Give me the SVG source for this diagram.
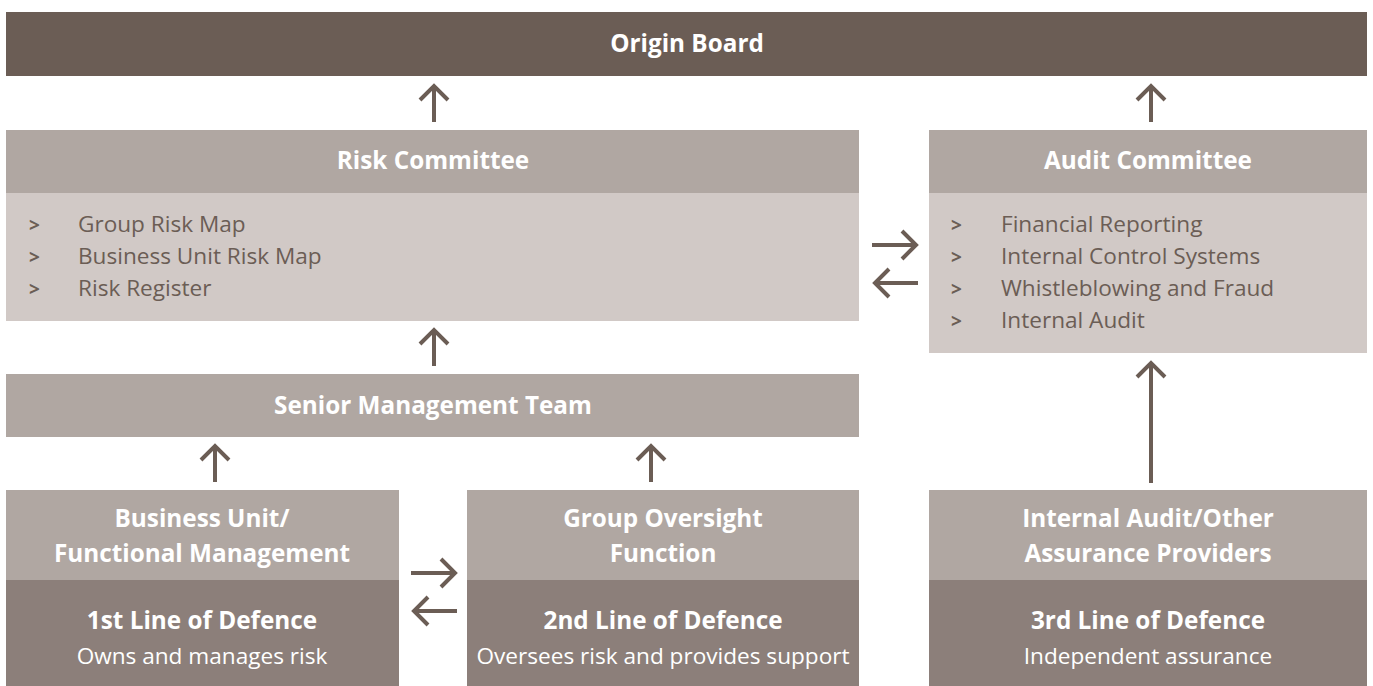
<svg xmlns="http://www.w3.org/2000/svg" width="1373" height="686" viewBox="0 0 1373 686">
  <defs>
    <style>
      .board { fill: #6b5d55; }
      .head { fill: #b0a7a2; }
      .body { fill: #d1c9c6; }
      .low { fill: #8c7f7a; }
      .t-head { font-family: "Open Sans", "Liberation Sans", sans-serif; font-weight: 700; font-size: 24.3px; fill: #ffffff; text-anchor: middle; }
      .t-sub { font-family: "Open Sans", "Liberation Sans", sans-serif; font-weight: 400; font-size: 22.6px; fill: #ffffff; text-anchor: middle; }
      .t-list { font-family: "Open Sans", "Liberation Sans", sans-serif; font-weight: 400; font-size: 22.6px; fill: #6b5d55; }
      .t-bul { font-family: "Open Sans", "Liberation Sans", sans-serif; font-weight: 700; font-size: 19px; fill: #6b5d55; }
      .arrow { fill: none; stroke: #6b5d55; stroke-width: 4; stroke-linecap: butt; stroke-linejoin: miter; }
    </style>
  </defs>
  <rect width="1373" height="686" fill="#ffffff"/>

  <!-- Board -->
  <g id="origin-board">
    <rect class="board" x="6" y="12" width="1361" height="64"/>
    <text class="t-head" x="687" y="52">Origin Board</text>
  </g>

  <!-- Risk Committee -->
  <g id="risk-committee">
    <rect class="head" x="6" y="130" width="853" height="63"/>
    <rect class="body" x="6" y="193" width="853" height="128"/>
    <text class="t-head" x="433" y="169">Risk Committee</text>
    <text class="t-bul" x="29" y="232">&gt;</text>
    <text class="t-bul" x="29" y="264">&gt;</text>
    <text class="t-bul" x="29" y="296">&gt;</text>
    <text class="t-list" x="78" y="232">Group Risk Map</text>
    <text class="t-list" x="78" y="264">Business Unit Risk Map</text>
    <text class="t-list" x="78" y="296">Risk Register</text>
  </g>

  <!-- Audit Committee -->
  <g id="audit-committee">
    <rect class="head" x="929" y="130" width="438" height="63"/>
    <rect class="body" x="929" y="193" width="438" height="160"/>
    <text class="t-head" x="1148" y="169">Audit Committee</text>
    <text class="t-bul" x="951" y="232">&gt;</text>
    <text class="t-bul" x="951" y="264">&gt;</text>
    <text class="t-bul" x="951" y="296">&gt;</text>
    <text class="t-bul" x="951" y="328">&gt;</text>
    <text class="t-list" x="1001" y="232">Financial Reporting</text>
    <text class="t-list" x="1001" y="264">Internal Control Systems</text>
    <text class="t-list" x="1001" y="296">Whistleblowing and Fraud</text>
    <text class="t-list" x="1001" y="328">Internal Audit</text>
  </g>

  <!-- Senior Management Team -->
  <g id="senior-management">
    <rect class="head" x="6" y="374" width="853" height="63"/>
    <text class="t-head" x="433" y="414">Senior Management Team</text>
  </g>

  <!-- 1st line -->
  <g id="first-line">
    <rect class="head" x="6" y="490" width="393" height="90"/>
    <rect class="low" x="6" y="580" width="393" height="106"/>
    <text class="t-head" x="202" y="527">Business Unit/</text>
    <text class="t-head" x="202" y="562">Functional Management</text>
    <text class="t-head" x="202" y="629">1st Line of Defence</text>
    <text class="t-sub" x="202" y="664">Owns and manages risk</text>
  </g>

  <!-- 2nd line -->
  <g id="second-line">
    <rect class="head" x="467" y="490" width="392" height="90"/>
    <rect class="low" x="467" y="580" width="392" height="106"/>
    <text class="t-head" x="663" y="527">Group Oversight</text>
    <text class="t-head" x="663" y="562">Function</text>
    <text class="t-head" x="663" y="629">2nd Line of Defence</text>
    <text class="t-sub" x="663" y="664">Oversees risk and provides support</text>
  </g>

  <!-- 3rd line -->
  <g id="third-line">
    <rect class="head" x="929" y="490" width="438" height="90"/>
    <rect class="low" x="929" y="580" width="438" height="106"/>
    <text class="t-head" x="1148" y="527">Internal Audit/Other</text>
    <text class="t-head" x="1148" y="562">Assurance Providers</text>
    <text class="t-head" x="1148" y="629">3rd Line of Defence</text>
    <text class="t-sub" x="1148" y="664">Independent assurance</text>
  </g>

  <!-- Connectors -->
  <g id="connectors">
    <!-- Risk Committee -> Board -->
    <path class="arrow" d="M434,122 V86 M420,100 L434,86 L448,100"/>
    <!-- Audit Committee -> Board -->
    <path class="arrow" d="M1151,122 V86 M1137,100 L1151,86 L1165,100"/>
    <!-- Senior Management -> Risk Committee -->
    <path class="arrow" d="M434,366 V330 M420,344 L434,330 L448,344"/>
    <!-- Risk <-> Audit -->
    <path class="arrow" d="M872,245 H916 M902,231 L916,245 L902,259"/>
    <path class="arrow" d="M918,283 H875 M889,269 L875,283 L889,297"/>
    <!-- 1st line -> Senior Management -->
    <path class="arrow" d="M215,482 V446 M201,460 L215,446 L229,460"/>
    <!-- 2nd line -> Senior Management -->
    <path class="arrow" d="M651,482 V446 M637,460 L651,446 L665,460"/>
    <!-- 1st <-> 2nd line -->
    <path class="arrow" d="M411,573 H455 M441,559 L455,573 L441,587"/>
    <path class="arrow" d="M457,611 H414 M428,597 L414,611 L428,625"/>
    <!-- 3rd line -> Audit Committee -->
    <path class="arrow" d="M1151,483 V363 M1137,377 L1151,363 L1165,377"/>
  </g>
</svg>
